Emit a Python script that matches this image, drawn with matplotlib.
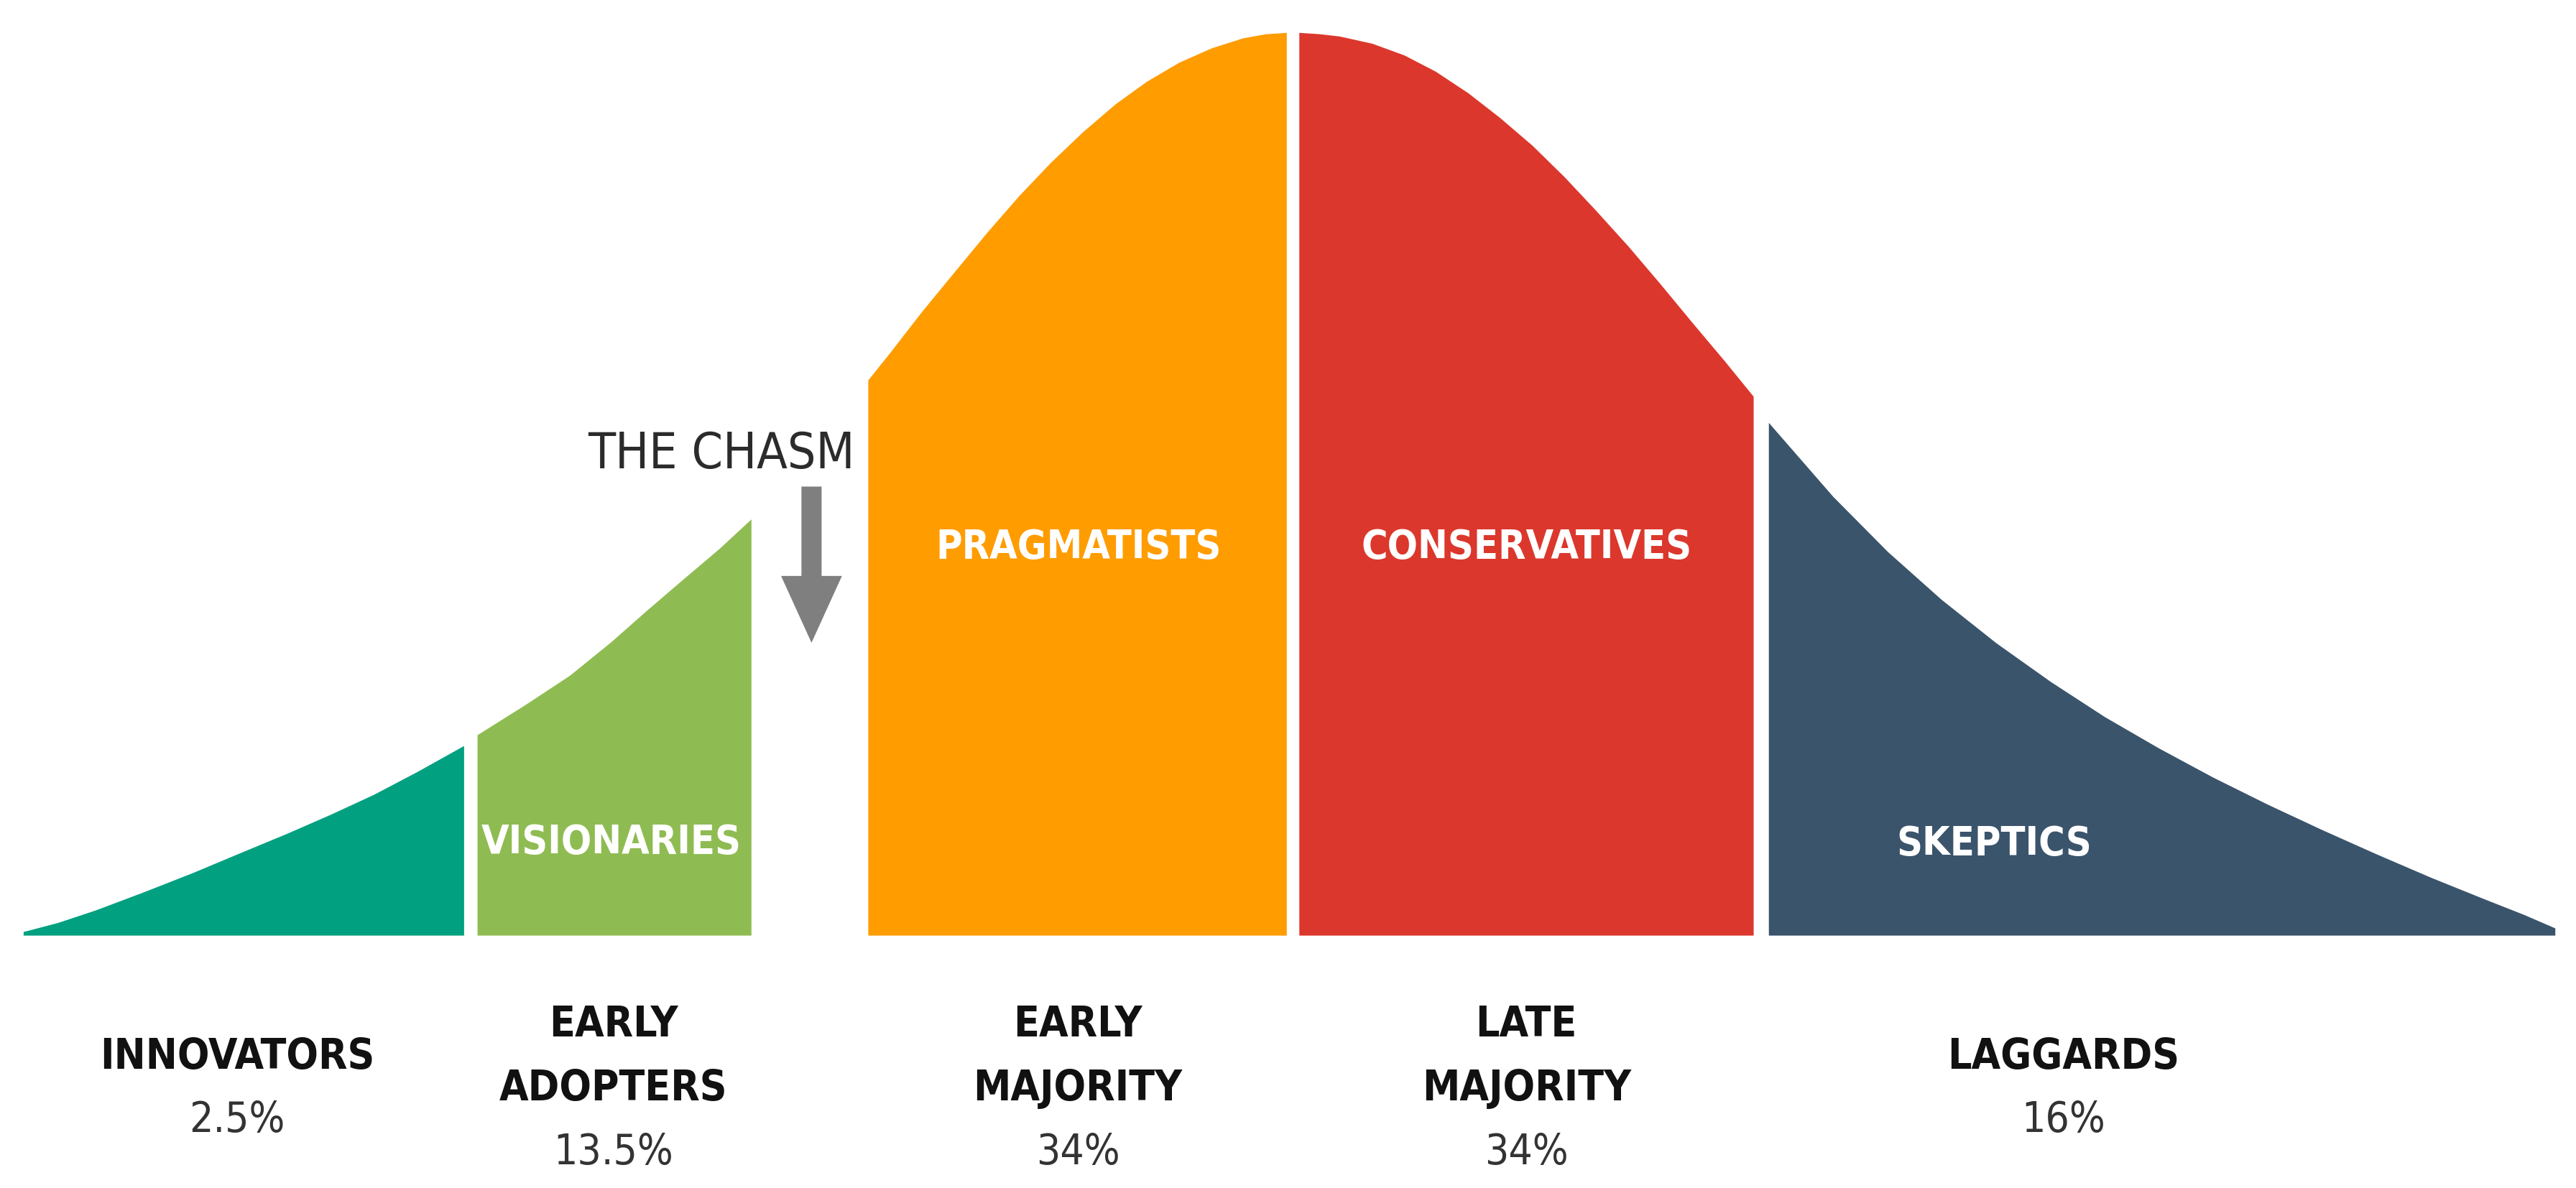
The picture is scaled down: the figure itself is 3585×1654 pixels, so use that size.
import matplotlib
matplotlib.use('Agg')
import matplotlib.pyplot as plt
from matplotlib.patches import FancyArrow

# Top edge of each segment.
# x in standard deviations from the mean, height in % of the peak
innov_x = [-2.836, -2.759, -2.674, -2.567, -2.459, -2.353, -2.246, -2.149, -2.053, -1.957, -1.852]
innov_h = [0.4, 1.4, 2.8, 4.8, 6.9, 9.1, 11.3, 13.4, 15.6, 18.1, 21.0]

early_ad_x = [-1.822, -1.716, -1.615, -1.523, -1.443, -1.363, -1.282, -1.210]
early_ad_h = [22.2, 25.5, 28.8, 32.5, 36.0, 39.4, 42.8, 46.1]

early_maj_x = [-0.949, -0.899, -0.827, -0.754, -0.684, -0.612, -0.541, -0.469,
               -0.396, -0.326, -0.254, -0.181, -0.111, -0.060, -0.014]
early_maj_h = [61.5, 64.6, 69.2, 73.6, 77.8, 81.9, 85.6, 89.0,
               92.1, 94.6, 96.7, 98.3, 99.4, 99.85, 100.0]

late_maj_x = [0.014, 0.060, 0.104, 0.177, 0.249, 0.319, 0.392, 0.462, 0.535,
              0.607, 0.677, 0.750, 0.822, 0.892, 0.965, 1.029]
late_maj_h = [100.0, 99.85, 99.6, 98.8, 97.5, 95.7, 93.3, 90.6, 87.5,
              84.0, 80.3, 76.3, 72.1, 67.9, 63.6, 59.7]

lagg_x = [1.063, 1.207, 1.329, 1.449, 1.571, 1.693, 1.814, 1.936,
          2.056, 2.178, 2.299, 2.421, 2.543, 2.663, 2.750, 2.820]
lagg_h = [56.8, 48.6, 42.5, 37.2, 32.4, 28.1, 24.2, 20.7,
          17.5, 14.5, 11.7, 9.0, 6.4, 4.0, 2.3, 0.8]

groups = ['INNOVATORS', 'EARLY\nADOPTERS', 'EARLY\nMAJORITY', 'LATE\nMAJORITY', 'LAGGARDS']
shares = ['2.5%', '13.5%', '34%', '34%', '16%']
group_x = [-2.358, -1.517, -0.480, 0.522, 1.722]

nicknames = ['', 'VISIONARIES', 'PRAGMATISTS', 'CONSERVATIVES', 'SKEPTICS']
nick_x = [0, -1.522, -0.478, 0.522, 1.567]
nick_y = [0, 10.7, 43.4, 43.4, 10.5]

colors = ['#00A080', '#8FBC52', '#FF9C00', '#DC372C', '#3A546B']

fonts = ['DejaVu Sans']
stretch = 'condensed'

fig = plt.figure(figsize=(35.85, 16.54), dpi=100)
ax = fig.add_axes([0, 0, 1, 1])
ax.set_xlim(-2.888, 2.867)
ax.set_ylim(-28.0, 103.6)
ax.axis('off')

outlines = [(innov_x, innov_h), (early_ad_x, early_ad_h), (early_maj_x, early_maj_h),
            (late_maj_x, late_maj_h), (lagg_x, lagg_h)]

for (xs, hs), c in zip(outlines, colors):
    ax.fill_between(xs, 0, hs, color=c, linewidth=0)

# white labels inside the curve
for name, x, y in zip(nicknames, nick_x, nick_y):
    if name:
        ax.text(x, y - 1.6, name, color='white', fontsize=40, fontweight='bold',
                family=fonts, stretch=stretch, ha='center', va='baseline')

# group names and shares under the curve
step = 7.05
for name, share, x in zip(groups, shares, group_x):
    lines = name.split('\n') + [share]
    top = -16.6 + step * (len(lines) - 1) / 2
    for i, line in enumerate(lines):
        last = i == len(lines) - 1
        ax.text(x, top - i * step - 1.7, line, fontsize=42,
                fontweight='normal' if last else 'bold',
                color='#333333' if last else '#111111',
                family=fonts, stretch=stretch, ha='center', va='baseline')

# the chasm
ax.text(-1.276, 51.7, 'THE CHASM', fontsize=50, color='#2b2b2b',
        family=fonts, stretch=stretch, ha='center', va='baseline')
ax.add_patch(FancyArrow(-1.075, 49.7, 0, -17.3, width=0.045, head_width=0.136,
                        head_length=7.4, length_includes_head=True,
                        color='#7f7f7f', linewidth=0))

fig.savefig('out.png', dpi=100, facecolor='white')
